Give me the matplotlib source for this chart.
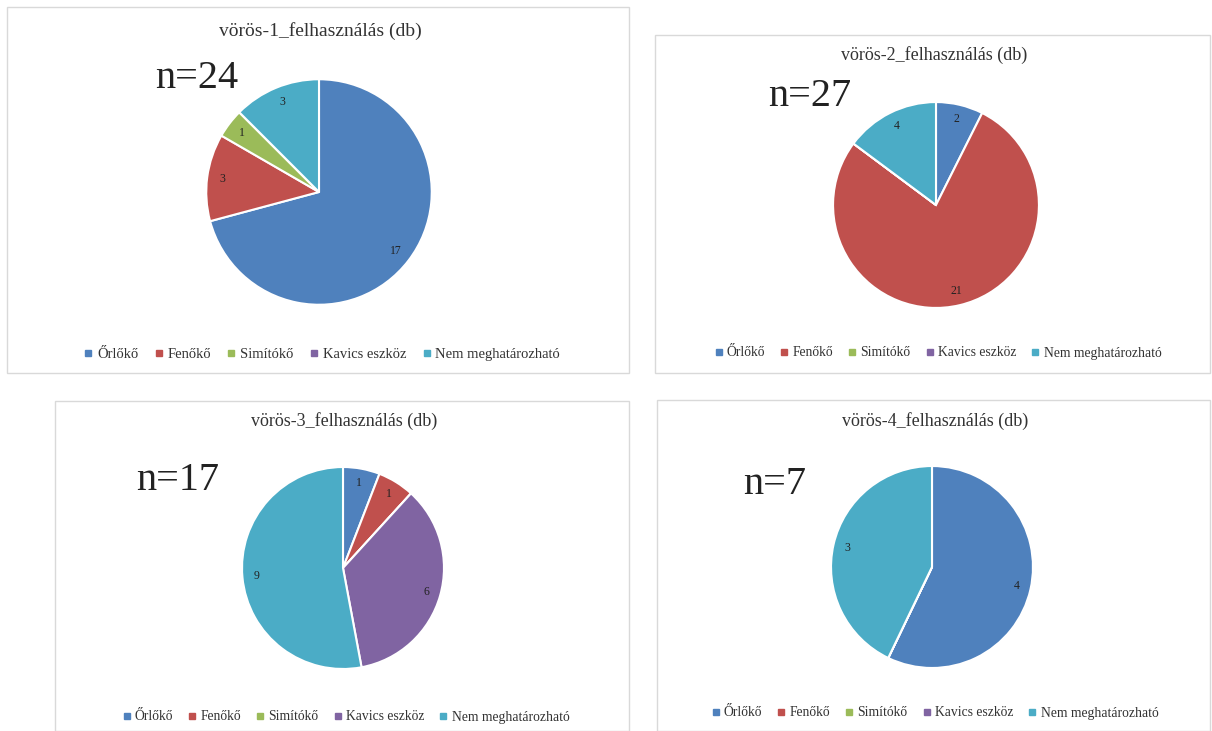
import math
import matplotlib
matplotlib.use('Agg')
import matplotlib.pyplot as plt
from matplotlib.patches import Rectangle
from matplotlib.lines import Line2D

plt.rcParams['font.family'] = ['Liberation Serif', 'DejaVu Serif']

categories = ['Őrlőkő', 'Fenőkő', 'Simítókő', 'Kavics eszköz', 'Nem meghatározható']
titles = ['vörös-1_felhasználás (db)', 'vörös-2_felhasználás (db)',
          'vörös-3_felhasználás (db)', 'vörös-4_felhasználás (db)']
n_labels = ['n=24', 'n=27', 'n=17', 'n=7']
voros1 = [17, 3, 1, 0, 3]
voros2 = [2, 21, 0, 0, 4]
voros3 = [1, 1, 0, 6, 9]
voros4 = [4, 0, 0, 0, 3]
series = [voros1, voros2, voros3, voros4]
colors = ['#4F81BD', '#C0504D', '#9BBB59', '#8064A2', '#4BACC6']

W, H = 1212, 731
fig = plt.figure(figsize=(W / 100, H / 100), dpi=100)

# layout in pixels: box (x0, y0, x1, y1), pie centre/radius, title y, n pos, legend centre
boxes = [(7, 7, 629, 373), (655, 35, 1210, 373), (55, 401, 629, 731), (657, 400, 1210, 731)]
pies = [(319, 192, 115), (936, 205, 105), (343, 568, 103), (932, 567, 103)]
title_y = [31, 55, 421, 421]
title_size = [14, 13, 13, 13]
legend_size = [10.5, 9.8, 9.8, 9.8]
n_pos = [(155, 78), (768, 97), (136, 481), (743, 484)]
legend_pos = [(322, 354), (938, 353), (346, 717), (935, 713)]


def fx(x):
    return x / W


def fy(y):
    return 1 - y / H


for i in range(4):
    x0, y0, x1, y1 = boxes[i]
    fig.patches.append(Rectangle((fx(x0), fy(y1)), fx(x1 - x0), (y1 - y0) / H,
                                 transform=fig.transFigure, fill=False,
                                 edgecolor='#d9d9d9', linewidth=1))
    cx, cy, r = pies[i]
    ax = fig.add_axes([fx(cx - r), fy(cy + r), 2 * r / W, 2 * r / H])
    vals = series[i]
    total = sum(vals)
    ax.pie(vals, colors=colors, startangle=90, counterclock=False,
           radius=1, wedgeprops=dict(edgecolor='white', linewidth=1.5))
    # data labels only for non-zero slices
    ang = 90.0
    for v in vals:
        if v > 0:
            mid = ang - v / total * 360 / 2
            ax.text(0.86 * math.cos(math.radians(mid)), 0.86 * math.sin(math.radians(mid)),
                    str(v), ha='center', va='center', fontsize=8.5, color='#222222')
        ang -= v / total * 360
    ax.set_xlim(-1.02, 1.02)
    ax.set_ylim(-1.02, 1.02)
    ax.axis('off')

    fig.text(fx((x0 + x1) / 2 + 2), fy(title_y[i]), titles[i], ha='center', va='center',
             fontsize=title_size[i], color='#333333')
    fig.text(fx(n_pos[i][0]), fy(n_pos[i][1]), n_labels[i], ha='left', va='center',
             fontsize=29, color='#222222')

    handles = [Line2D([], [], marker='s', linestyle='none', markersize=5,
                      markerfacecolor=c, markeredgecolor=c) for c in colors]
    fig.legend(handles, categories, loc='center',
               bbox_to_anchor=(fx(legend_pos[i][0]), fy(legend_pos[i][1])),
               ncol=5, frameon=False, fontsize=legend_size[i], handlelength=0.6,
               handletextpad=0.3, columnspacing=1.1, labelcolor='#333333')

fig.savefig('out.png', dpi=100)
